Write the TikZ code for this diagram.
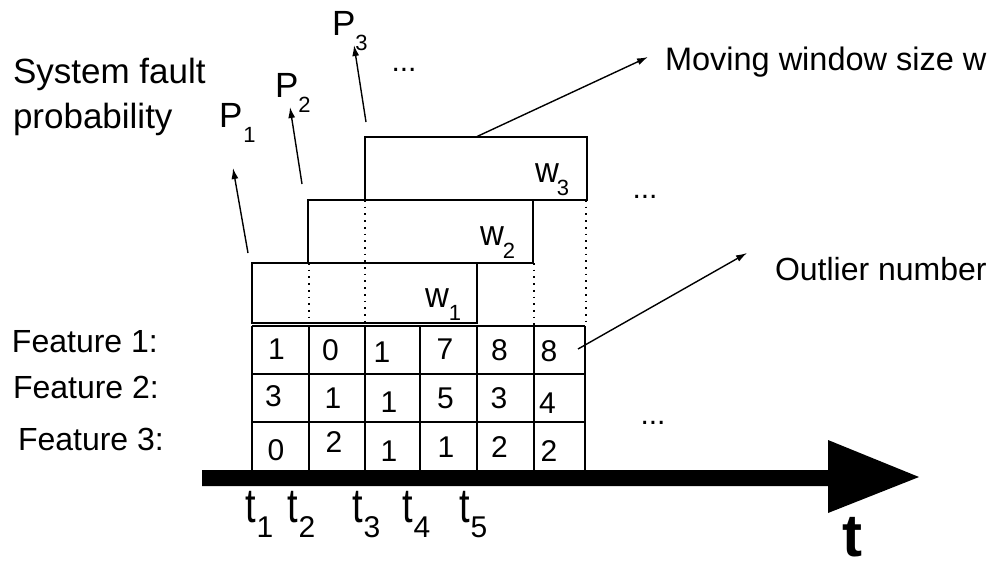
\documentclass[tikz,border=0pt]{standalone}
\usepackage{fontspec}
\setmainfont{Liberation Sans}
\usepackage{graphicx}
\usetikzlibrary{arrows.meta}

% font size helper (size in pt, equal leading)
\newcommand{\fs}[1]{\fontsize{#1}{#1}\selectfont}
% labels with a lowered index
\newcommand{\plab}[2][3pt]{{\fs{35}P}\kern#1\raisebox{-15pt}{\fs{22}#2}}
\newcommand{\wlab}[2][0pt]{{\fs{33}\scalebox{1}[1.08]{w}}\kern#1\raisebox{-13pt}{\fs{22}#2}}
\newcommand{\tlab}[1]{{\fs{38}\scalebox{1}[1.27]{t}}\kern1pt\raisebox{-15pt}{\fs{30}#1}}

\begin{document}
\begin{tikzpicture}[x=1pt,y=-1pt,
  txt/.style={inner sep=0pt, outer sep=0pt, anchor=base west},
  num/.style={inner sep=0pt, outer sep=0pt, anchor=base, font=\fs{30}},
  win/.style={draw, line width=1.8pt, inner sep=0pt, outer sep=0pt},
  gridline/.style={line width=1.8pt},
  dotline/.style={line width=1.7pt, dash pattern=on 1.7pt off 5pt},
  conn/.style={line width=1.4pt, -{Latex[length=11pt,width=7pt]}}]

\useasboundingbox (0,0) rectangle (998,563);

% moving windows
\node[win, minimum width=225pt, minimum height=60pt] (win1) at (364.5,293) {};
\node[win, minimum width=225pt, minimum height=63pt] (win2) at (420.5,231.5) {};
\node[win, minimum width=222pt, minimum height=63pt] (win3) at (476,168.5) {};

\node[txt] (lw1) at (425,307) {\wlab{1}};
\node[txt] (lw2) at (480,245) {\wlab[-1pt]{2}};
\node[txt] (lw3) at (535,182) {\wlab[-2pt]{3}};

% dotted time guides
\draw[dotline] (309,263) -- (309,323);
\draw[dotline] (365,200) -- (365,323);
\draw[dotline] (534,263) -- (534,326);
\draw[dotline] (586,200) -- (586,326);

% feature table
\draw[gridline] (252,326) -- (585,326);
\draw[gridline] (252,374) -- (585,374);
\draw[gridline] (252,422) -- (585,422);
\foreach \cx in {252,309,365,420,477,534,585}
  \draw[gridline] (\cx,326) -- (\cx,470);

% table values
\node[num] (a1) at (276.5,359) {1};
\node[num] (a2) at (330.5,360) {0};
\node[num] (a3) at (382,362) {1};
\node[num] (a4) at (445,359) {7};
\node[num] (a5) at (499.5,360) {8};
\node[num] (a6) at (549,361) {8};
\node[num] (b1) at (273.5,406) {3};
\node[num] (b2) at (333,408) {1};
\node[num] (b3) at (389,412) {1};
\node[num] (b4) at (445.5,408) {5};
\node[num] (b5) at (499,408) {3};
\node[num] (b6) at (547.5,413) {4};
\node[num] (c1) at (276,460) {0};
\node[num] (c2) at (334,452) {2};
\node[num] (c3) at (389,461) {1};
\node[num] (c4) at (446,457) {1};
\node[num] (c5) at (499.5,457) {2};
\node[num] (c6) at (549,461) {2};

% row captions
\node[txt, font=\fs{32}] (f1) at (12,352) {Feature 1:};
\node[txt, font=\fs{32}] (f2) at (13,398) {Feature 2:};
\node[txt, font=\fs{32}] (f3) at (18,450) {Feature 3:};

% time axis
\fill (202,470) -- (828,470) -- (828,440) -- (919,477) -- (828,513) -- (828,486) -- (202,486) -- cycle;
\node[txt] (t1) at (245,522) {\tlab{1}};
\node[txt] (t2) at (287,522) {\tlab{2}};
\node[txt] (t3) at (352,522) {\tlab{3}};
\node[txt] (t4) at (402,522) {\tlab{4}};
\node[txt] (t5) at (459,522) {\tlab{5}};
\node[txt, font=\fontsize{60}{60}\bfseries] (tt) at (842,556) {t};

% fault probabilities
\node[txt, font=\fs{35}] (sys1) at (13,83) {System fault};
\node[txt, font=\fs{35}] (sys2) at (13,128) {probability};
\node[txt] (p1) at (219,127) {\plab[1pt]{1}};
\node[txt] (p2) at (275,97) {\plab[0pt]{2}};
\node[txt] (p3) at (332,35) {\plab[0pt]{3}};
\coordinate (p1s) at (248,253); \coordinate (p1e) at (233,168);
\coordinate (p2s) at (302,184); \coordinate (p2e) at (290,107);
\coordinate (p3s) at (366,122); \coordinate (p3e) at (354,45);
\draw[conn] (p1s) -- (p1e);
\draw[conn] (p2s) -- (p2e);
\draw[conn] (p3s) -- (p3e);

% continuation marks
\node[num] (d1) at (404,71) {...};
\node[num] (d2) at (645,198) {...};
\node[num] (d3) at (653,424) {...};

% callouts
\node[txt, font=\fs{32.5}] (mw) at (665,70) {Moving window size w};
\coordinate (mwtip) at (648,57);
\draw[conn] (win3.north) -- (mwtip);

\node[txt, font=\fs{32}] (on) at (775,280) {Outlier number};
\coordinate (ons) at (578,349);
\coordinate (ontip) at (747,253);
\draw[conn] (ons) -- (ontip);

\end{tikzpicture}
\end{document}
